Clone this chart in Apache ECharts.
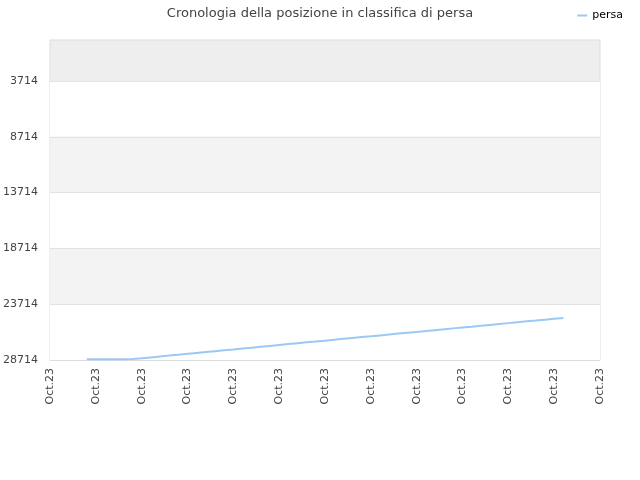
<!DOCTYPE html>
<html>
<head>
<meta charset="utf-8">
<script src="https://cdn.jsdelivr.net/npm/echarts@6/dist/echarts.min.js"></script>
<style>
  html, body { margin: 0; padding: 0; background: #fff; }
  #chart { width: 640px; height: 480px; }
</style>
</head>
<body>
<div id="chart"></div>
<script>
// categorie (giorni), etichetta unica "Oct.23"
const categories = Array.from({ length: 61 }, () => 'Oct.23');

// posizione in classifica (null = nessun dato)
const rankValues = [
  null, null, null, null,
  28640, 28640, 28640, 28640, 28640, 28630, 28560, 28480, 28400, 28320,
  28240, 28160, 28080, 28000, 27920, 27840, 27770, 27690, 27610, 27530,
  27450, 27370, 27290, 27210, 27130, 27060, 26980, 26900, 26820, 26740,
  26660, 26590, 26510, 26430, 26350, 26270, 26200, 26120, 26040, 25960,
  25880, 25800, 25730, 25650, 25570, 25490, 25410, 25330, 25250, 25180,
  25100, 25020, 24950,
  null, null, null, null
];

const yTicks = [3714, 8714, 13714, 18714, 23714, 28714];
const yMin = 40;
const yMax = 28714;

const chart = echarts.init(document.getElementById('chart'));

chart.setOption({
  animation: false,
  backgroundColor: '#ffffff',
  textStyle: { fontFamily: 'DejaVu Sans, sans-serif' },
  title: {
    text: 'Cronologia della posizione in classifica di persa',
    left: 'center',
    top: 2,
    textStyle: { fontSize: 13, fontWeight: 'normal', color: '#444444' }
  },
  legend: {
    right: 12,
    top: 5,
    itemWidth: 10,
    itemHeight: 2,
    icon: 'rect',
    textStyle: { fontSize: 11, color: '#000000' },
    data: ['persa']
  },
  grid: {
    left: 50,
    right: 40,
    top: 40,
    bottom: 120,
    show: true,
    backgroundColor: '#eeeeee',
    borderColor: '#dddddd',
    borderWidth: 1
  },
  xAxis: {
    type: 'category',
    boundaryGap: false,
    data: categories,
    axisLine: { lineStyle: { color: '#dddddd' } },
    axisTick: { show: false },
    splitLine: { show: false },
    axisLabel: {
      interval: 4,
      rotate: 90,
      color: '#444444',
      fontSize: 11,
      margin: 8,
      showMinLabel: true,
      showMaxLabel: true
    }
  },
  yAxis: {
    type: 'value',
    inverse: true,
    min: yMin,
    max: yMax,
    axisLine: { show: false },
    axisTick: { show: false, customValues: yTicks },
    axisLabel: {
      customValues: yTicks,
      formatter: (v) => String(v),
      color: '#444444',
      fontSize: 11,
      margin: 12
    },
    splitLine: { show: true, lineStyle: { color: '#e2e2e2' } },
    splitArea: {
      show: true,
      areaStyle: {
        color: ['#ffffff', '#f3f3f3', '#ffffff', '#f3f3f3', '#ffffff', '#eeeeee']
      }
    }
  },
  series: [
    {
      name: 'persa',
      type: 'line',
      data: rankValues,
      showSymbol: false,
      symbol: 'none',
      lineStyle: { color: '#9cc8f4', width: 2 },
      itemStyle: { color: '#9cc8f4' }
    }
  ]
});
</script>
</body>
</html>
